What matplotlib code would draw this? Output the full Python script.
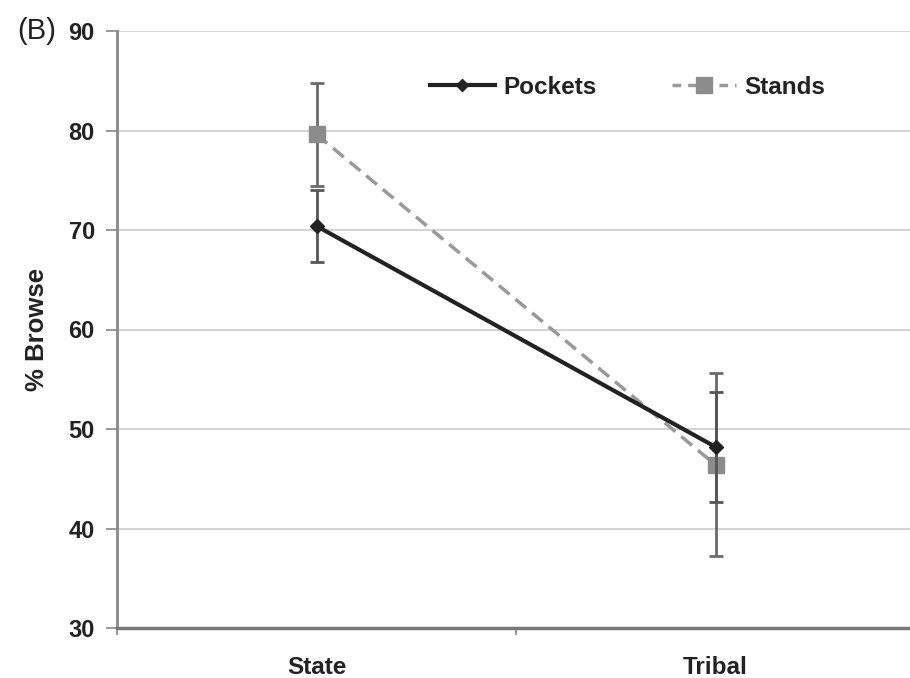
import matplotlib
matplotlib.use("Agg")
import matplotlib.pyplot as plt
from matplotlib.lines import Line2D

plt.rcParams['font.family'] = ['Liberation Sans', 'DejaVu Sans']

categories = ["State", "Tribal"]
pockets = [70.4, 48.2]
pockets_err = [3.6, 5.5]
stands = [79.6, 46.4]
stands_err = [5.2, 9.2]
yticks = [30, 40, 50, 60, 70, 80, 90]

fig = plt.figure(figsize=(9.1, 6.78), dpi=100)
ax = fig.add_axes([117/910, 1-628/678, (915-117)/910, (628-31)/678])

xpos = [0.5, 1.5]
ax.errorbar(xpos, stands, yerr=stands_err, color='#999999', ls=(0, (4, 2.2)), lw=2.5,
            marker='s', ms=12, mfc='#8c8c8c', mec='#8c8c8c',
            ecolor='#6a6a6a', elinewidth=2, capsize=5, capthick=2, zorder=3)
ax.errorbar(xpos, pockets, yerr=pockets_err, color='#222222', ls='-', lw=3,
            marker='D', ms=7, mfc='#222222', mec='#222222',
            ecolor='#555555', elinewidth=2, capsize=5, capthick=2, zorder=4)

ax.set_xlim(0, 2)
ax.set_ylim(30, 90)
ax.set_yticks(yticks)
ax.set_yticklabels([str(t) for t in yticks], fontsize=17, fontweight='bold', color='#222222')
ax.set_xticks([0, 1, 2])
ax.set_xticklabels([])
ax.set_xticks(xpos, minor=True)
ax.set_xticklabels(categories, minor=True, fontsize=17.5, fontweight='bold', color='#222222')
ax.tick_params(axis='x', which='minor', length=0, pad=20)
ax.tick_params(axis='x', which='major', length=5, color='#888888', width=1.2)
ax.tick_params(axis='y', length=8, color='#888888', width=1.2, pad=8)
ax.yaxis.grid(True, color='#d0d0d0', lw=1.3)
ax.set_axisbelow(True)
for s in ['top', 'right']:
    ax.spines[s].set_visible(False)
ax.spines['left'].set_color('#888888')
ax.spines['left'].set_linewidth(2)
ax.spines['bottom'].set_color('#777777')
ax.spines['bottom'].set_linewidth(2.5)

ax.set_ylabel('% Browse', fontsize=18.5, fontweight='bold', color='#222222', labelpad=14)

h1 = Line2D([], [], color='#222222', lw=3, marker='D', ms=6, mfc='#222222')
h2 = Line2D([], [], color='#999999', lw=2.5, ls=(0, (2.5, 2)), marker='s', ms=11, mfc='#8c8c8c', mec='#8c8c8c')
leg = ax.legend([h1, h2], ['Pockets', 'Stands'], loc='center left',
                bbox_to_anchor=((430-117)/798, (628-87)/597),
                ncol=2, frameon=False, borderpad=0, borderaxespad=0,
                handlelength=2.67, columnspacing=3.1, handletextpad=0.33,
                prop={'weight': 'bold', 'size': 17.5})
for t in leg.get_texts():
    t.set_color('#222222')

fig.text(17/910, 1-31/678, '(B)', fontsize=21, color='#222222', va='center', ha='left')

fig.savefig('out.png', dpi=100)
